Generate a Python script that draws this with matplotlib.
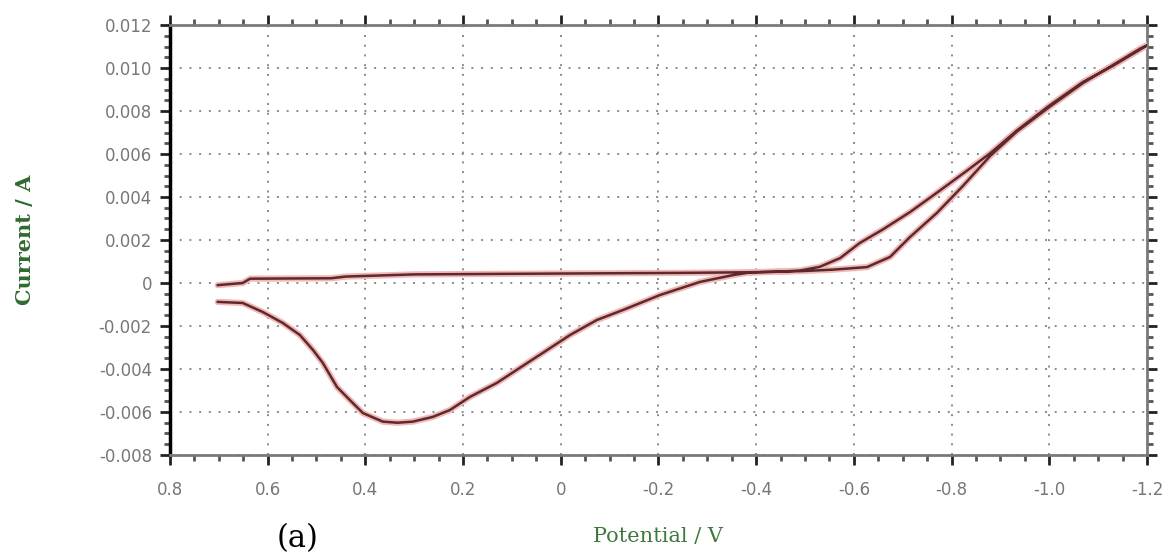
import matplotlib.pyplot as plt
import numpy as np

# cyclic voltammogram, potential in V and current in A
potential = [
    0.702, 0.651, 0.636, 0.47, 0.44, 0.30, 0.0, -0.244, -0.387, -0.49,
    -0.557, -0.627, -0.674, -0.715, -0.770, -0.823, -0.879, -0.934, -1.001,
    -1.069, -1.186, -1.20,
    -1.13, -1.069, -1.0, -0.934, -0.88, -0.83, -0.77, -0.715, -0.66,
    -0.612, -0.572, -0.53, -0.49, -0.44, -0.387,
    -0.353, -0.285, -0.203, -0.127, -0.074, -0.019, 0.028, 0.084, 0.131,
    0.186, 0.227, 0.262, 0.303, 0.334, 0.364, 0.405, 0.432, 0.458, 0.487,
    0.507, 0.534, 0.569, 0.610, 0.651, 0.702,
]
current_mA = [
    -0.10, 0.00, 0.20, 0.22, 0.30, 0.40, 0.44, 0.47, 0.50, 0.55,
    0.62, 0.74, 1.21, 2.14, 3.26, 4.51, 5.91, 7.05, 8.20,
    9.30, 10.90, 11.05,
    10.10, 9.35, 8.25, 7.10, 6.05, 5.20, 4.20, 3.30, 2.50,
    1.86, 1.16, 0.75, 0.58, 0.52, 0.49,
    0.37, 0.05, -0.56, -1.26, -1.72, -2.42, -3.12, -3.95, -4.65,
    -5.30, -5.91, -6.23, -6.45, -6.50, -6.45, -6.05, -5.44, -4.84, -3.72,
    -3.12, -2.42, -1.86, -1.35, -0.93, -0.88,
]
current = np.array(current_mA) / 1000.0

x_ticks = [0.8, 0.6, 0.4, 0.2, 0.0, -0.2, -0.4, -0.6, -0.8, -1.0, -1.2]
x_labels = ["0.8", "0.6", "0.4", "0.2", "0", "-0.2", "-0.4", "-0.6", "-0.8", "-1.0", "-1.2"]
y_ticks = [0.012, 0.010, 0.008, 0.006, 0.004, 0.002, 0.0, -0.002, -0.004, -0.006, -0.008]
y_labels = ["0.012", "0.010", "0.008", "0.006", "0.004", "0.002", "0",
            "-0.002", "-0.004", "-0.006", "-0.008"]

fig = plt.figure(figsize=(11.68, 5.56), dpi=100)
ax = fig.add_axes([0.1455, 0.1817, 0.8365, 0.7733])

# soft red halo under the dark trace
ax.plot(potential, current, color="#f2b8b8", lw=4.5, solid_capstyle="round", zorder=3)
ax.plot(potential, current, color="#5c2a2c", lw=1.8, zorder=4)

ax.set_xlim(0.8, -1.2)
ax.set_ylim(-0.008, 0.012)
ax.set_xticks(x_ticks)
ax.set_xticklabels(x_labels)
ax.set_yticks(y_ticks)
ax.set_yticklabels(y_labels)
ax.set_xticks(np.arange(-1.2, 0.801, 0.05), minor=True)
ax.set_yticks(np.arange(-0.008, 0.01201, 0.0005), minor=True)

ax.grid(True, which="major", color="#8a8a8a", lw=1.4, linestyle=(0, (1, 4)))

ax.tick_params(which="both", direction="out", top=True, right=True, color="#222222")
ax.tick_params(which="major", length=7, width=2)
ax.tick_params(which="minor", length=4, width=2, color="#555555")
ax.tick_params(axis="x", which="major", pad=12, labelsize=12, labelcolor="#777777")
ax.tick_params(axis="y", which="major", pad=6, labelsize=12, labelcolor="#777777")

for side in ["top", "right", "bottom"]:
    ax.spines[side].set_color("#7a7a7a")
    ax.spines[side].set_linewidth(2)
ax.spines["left"].set_color("black")
ax.spines["left"].set_linewidth(2.5)

ax.set_xlabel("Potential / V", family="DejaVu Serif", fontsize=15,
              color="#3d7a3d", labelpad=20)
ax.set_ylabel("Current / A", family="DejaVu Serif", fontsize=15,
              color="#2f6a2f", fontweight="bold", labelpad=46)

fig.text(0.255, 0.004, "(a)", family="DejaVu Serif", fontsize=22,
         color="black", ha="center", va="bottom")

fig.savefig("out.png", dpi=100)
